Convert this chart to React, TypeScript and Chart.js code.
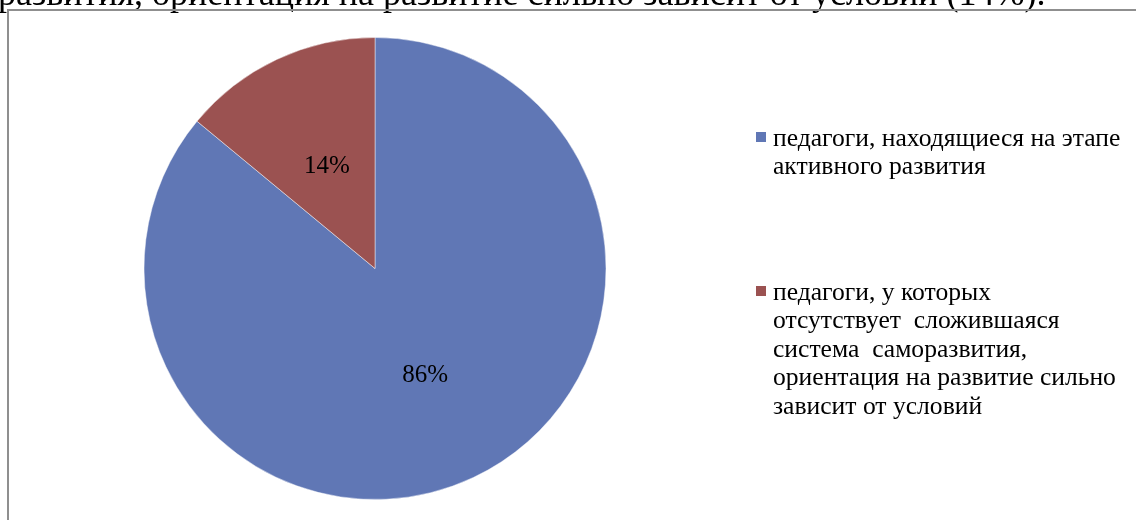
import React, { useEffect, useRef } from "react";
import { Chart, registerables } from "chart.js";

Chart.register(...registerables);

const categories = [
  "педагоги, находящиеся на этапе активного развития",
  "педагоги, у которых отсутствует сложившаяся система саморазвития, ориентация на развитие сильно зависит от условий",
];
const legendLines1 = ["педагоги, находящиеся на этапе", "активного развития"];
const legendLines2 = [
  "педагоги, у которых",
  "отсутствует  сложившаяся",
  "система  саморазвития,",
  "ориентация на развитие сильно",
  "зависит от условий",
];
const values = [86, 14];
const valueLabels = ["86%", "14%"];
const colors = ["#6077B5", "#9B5251"];
const topText = "развития, ориентация на развитие сильно зависит от условий (14%).";

const SERIF = '"Liberation Serif", "Times New Roman", serif';

const decorPlugin = {
  id: "decor",
  beforeDraw(chart: any) {
    const ctx = chart.ctx;
    ctx.save();
    ctx.fillStyle = "#ffffff";
    ctx.fillRect(0, 0, chart.width, chart.height);
    // cropped text from the document above
    ctx.fillStyle = "#000000";
    ctx.font = `36px ${SERIF}`;
    ctx.textBaseline = "alphabetic";
    ctx.textAlign = "left";
    ctx.fillText(topText, -2, 5);
    // chart frame
    ctx.strokeStyle = "#8f8f8f";
    ctx.lineWidth = 2;
    ctx.beginPath();
    ctx.moveTo(8, chart.height + 5);
    ctx.lineTo(8, 10);
    ctx.lineTo(chart.width + 5, 10);
    ctx.stroke();
    ctx.restore();
  },
  afterDatasetsDraw(chart: any) {
    const ctx = chart.ctx;
    const meta = chart.getDatasetMeta(0);
    ctx.save();
    // data labels
    ctx.fillStyle = "#000000";
    ctx.font = `25px ${SERIF}`;
    ctx.textAlign = "center";
    ctx.textBaseline = "middle";
    meta.data.forEach((arc: any, i: number) => {
      const p = arc.getCenterPoint();
      ctx.fillText(valueLabels[i], p.x + 1, p.y + 2);
    });
    // legend
    const groups = [legendLines1, legendLines2];
    const tops = [139, 293];
    const lineH = 28.5;
    ctx.textAlign = "left";
    ctx.font = `25.6px ${SERIF}`;
    groups.forEach((lines, gi) => {
      const y0 = tops[gi];
      ctx.fillStyle = colors[gi];
      ctx.fillRect(756, y0 - 7, 10, 10);
      ctx.fillStyle = "#000000";
      lines.forEach((t, li) => {
        ctx.fillText(t, 773, y0 + li * lineH);
      });
    });
    ctx.restore();
  },
};

export default function App() {
  const ref = useRef<HTMLCanvasElement | null>(null);
  useEffect(() => {
    if (!ref.current) return;
    const chart = new Chart(ref.current, {
      type: "pie",
      data: {
        labels: categories,
        datasets: [
          {
            data: values,
            backgroundColor: colors,
            borderColor: "rgba(255,255,255,0.45)",
            borderWidth: 1,
          },
        ],
      },
      options: {
        responsive: false,
        animation: false,
        layout: { padding: { left: 143.5, right: 529.5, top: 37, bottom: 20 } },
        plugins: {
          legend: { display: false },
          tooltip: { enabled: false },
          title: { display: false },
        },
      },
      plugins: [decorPlugin],
    });
    return () => chart.destroy();
  }, []);
  return (
    <div style={{ position: "fixed", left: 0, top: 0, width: 1136, height: 520, background: "#fff" }}>
      <canvas ref={ref} width={1136} height={520} style={{ display: "block", width: 1136, height: 520 }} />
    </div>
  );
}
